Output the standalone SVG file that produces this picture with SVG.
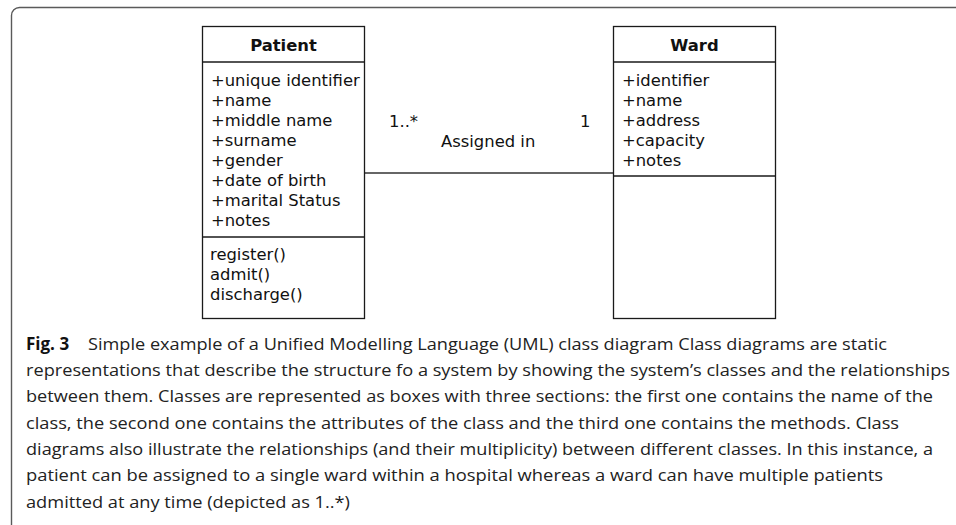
<svg xmlns="http://www.w3.org/2000/svg" width="956" height="525" viewBox="0 0 956 525">
<style>
.frame{fill:none;stroke:#5a5a5a;stroke-width:1.4}
.box{fill:#fff;stroke:#1a1a1a;stroke-width:1.3}
.sep{stroke:#1a1a1a;stroke-width:1.3}
.t{font-family:"DejaVu Sans","Liberation Sans",sans-serif;font-size:16.4px;fill:#111}
.h{font-family:"DejaVu Sans","Liberation Sans",sans-serif;font-size:16.4px;font-weight:bold;fill:#111;text-anchor:middle}
.conn{stroke:#333;stroke-width:1.3;fill:none}
.cap{font-family:"Open Sans","Noto Sans",sans-serif;font-size:17px;fill:#222}
.capb{font-family:"Open Sans","Noto Sans",sans-serif;font-size:17px;font-weight:bold;fill:#111}
</style>
<rect class="frame" x="11.5" y="7.5" width="1000" height="600" rx="8"/>
<g id="connectors">
<line class="conn" x1="364" y1="173" x2="613" y2="173"/>
<text class="t" x="389" y="127">1..*</text>
<text class="t" x="580" y="127">1</text>
<text class="t" x="441" y="147">Assigned in</text>
</g>
<g id="patient">
<rect class="box" x="202.5" y="26.5" width="162" height="292"/>
<line class="sep" x1="202.5" y1="62" x2="364.5" y2="62"/>
<line class="sep" x1="202.5" y1="237" x2="364.5" y2="237"/>
<text class="h" x="283.5" y="51">Patient</text>
<text class="t" x="211" y="86">+unique identifier</text>
<text class="t" x="211" y="106">+name</text>
<text class="t" x="211" y="126">+middle name</text>
<text class="t" x="211" y="146">+surname</text>
<text class="t" x="211" y="166">+gender</text>
<text class="t" x="211" y="186">+date of birth</text>
<text class="t" x="211" y="206">+marital Status</text>
<text class="t" x="211" y="226">+notes</text>
<text class="t" x="210" y="260">register()</text>
<text class="t" x="210" y="280">admit()</text>
<text class="t" x="210" y="300">discharge()</text>
</g>
<g id="ward">
<rect class="box" x="613.5" y="26.5" width="162" height="292"/>
<line class="sep" x1="613.5" y1="62" x2="775.5" y2="62"/>
<line class="sep" x1="613.5" y1="176" x2="775.5" y2="176"/>
<text class="h" x="694.5" y="51">Ward</text>
<text class="t" x="622" y="86">+identifier</text>
<text class="t" x="622" y="106">+name</text>
<text class="t" x="622" y="126">+address</text>
<text class="t" x="622" y="146">+capacity</text>
<text class="t" x="622" y="166">+notes</text>
</g>
<g id="caption">
<text class="capb" x="26" y="350">Fig. 3</text>
<text class="cap" x="88" y="350" textLength="799" lengthAdjust="spacingAndGlyphs">Simple example of a Unified Modelling Language (UML) class diagram Class diagrams are static</text>
<text class="cap" x="26" y="376" textLength="924" lengthAdjust="spacingAndGlyphs">representations that describe the structure fo a system by showing the system’s classes and the relationships</text>
<text class="cap" x="26" y="402" textLength="907" lengthAdjust="spacingAndGlyphs">between them. Classes are represented as boxes with three sections: the first one contains the name of the</text>
<text class="cap" x="26" y="429" textLength="873" lengthAdjust="spacingAndGlyphs">class, the second one contains the attributes of the class and the third one contains the methods. Class</text>
<text class="cap" x="26" y="455" textLength="907" lengthAdjust="spacingAndGlyphs">diagrams also illustrate the relationships (and their multiplicity) between different classes. In this instance, a</text>
<text class="cap" x="26" y="481" textLength="857" lengthAdjust="spacingAndGlyphs">patient can be assigned to a single ward within a hospital whereas a ward can have multiple patients</text>
<text class="cap" x="26" y="508" textLength="324" lengthAdjust="spacingAndGlyphs">admitted at any time (depicted as 1..*)</text>
</g>
</svg>
